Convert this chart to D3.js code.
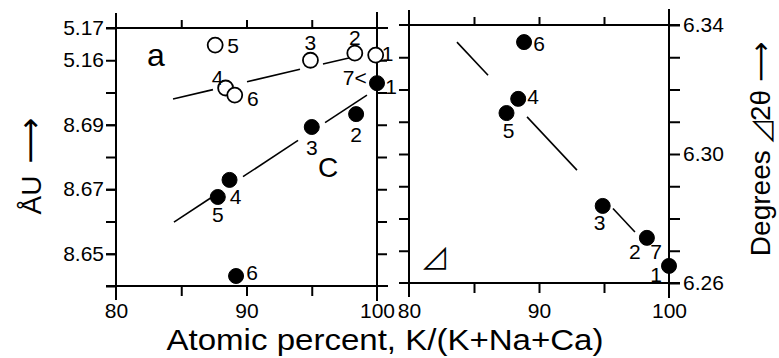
<!DOCTYPE html>
<html>
<head>
<meta charset="utf-8">
<script src="https://cdn.jsdelivr.net/npm/d3@7"></script>
<style>
  body { margin: 0; background: #fff; }
  text { font-family: "Liberation Sans", sans-serif; fill: #000; }
</style>
</head>
<body>
<svg id="chart" width="779" height="358"></svg>
<script>
// atomic percent K/(K+Na+Ca) and measured values, points numbered 1..6
const ptLabels = ["1", "2", "3", "4", "5", "6"];
const aPct  = [99.9, 98.3, 94.9, 88.4, 87.6, 89.1];
const aVals = [5.1616, 5.1622, 5.1600, 5.1514, 5.1647, 5.1492];
const cPct  = [100, 98.4, 95.0, 88.7, 87.8, 89.2];
const cVals = [8.7029, 8.6933, 8.6893, 8.6729, 8.6676, 8.6431];
const dPct  = [100, 98.3, 94.9, 88.4, 87.5, 88.85];
const dVals = [6.2653, 6.2740, 6.2839, 6.3171, 6.3127, 6.3347];

// fitted lines, drawn broken around the points
const aFit = { x0: 84.37, y0: 5.148, slope: 0.000944 };
const aSegs = [[84.37, 87.43], [90.04, 94.1], [95.86, 97.93]];
const cFit = { x0: 84.44, y0: 8.6598, slope: 0.002664 };
const cSegs = [[84.44, 87.28], [89.73, 93.95], [96.02, 99.23]];
const dFit = { x0: 83.69, y0: 6.3347, slope: -0.0043 };
const dSegs = [[83.69, 86.08], [89.08, 92.92], [95.69, 97.38]];

// ticks
const xMinor = [85, 90, 95];
const xLabels = [80, 90, 100];
const aTicks = [5.17, 5.16, 5.15, 5.14, 5.13, 5.12, 5.11, 5.10, 5.09];
const aTickLabels = ["5.17", "5.16"];
const cTickLabels = [8.69, 8.67, 8.65];
const dTicks = [6.34, 6.33, 6.32, 6.31, 6.30, 6.29, 6.28, 6.27, 6.26];
const dTickLabels = ["6.34", "6.30", "6.26"];

// label offsets (px) from the point centre, by series
const offA = [[12, -2], [0, -16], [0, -18], [-8, -10], [18, 0], [18, 3]];
const offC = [[14, 3], [0, 20], [0, 20], [6, 17], [0, 18], [16, -4]];
const offD = [[-13, 9], [-12, 14], [-3, 17], [15, -2], [2, 17], [15, 1]];

const svg = d3.select("#chart");

const xL = d3.scaleLinear().domain([80, 100]).range([116, 377]);
const xR = d3.scaleLinear().domain([80, 100]).range([409, 669]);
const yA = d3.scaleLinear().domain([5.09, 5.17]).range([286, 28]);
const yC = d3.scaleLinear().domain([8.64, 8.72]).range([286, 28]);
const yD = d3.scaleLinear().domain([6.26, 6.34]).range([283, 25]);

function styleAxis(g, size) {
  g.select(".domain").remove();
  g.selectAll(".tick line").attr("stroke", "#000").attr("stroke-width", 2);
  g.attr("font-family", "Liberation Sans, sans-serif").attr("font-size", size || 21);
  g.selectAll("text").attr("fill", "#000");
}

const f2 = d3.format(".2f");

// ---- frames (lines overshoot the corners like the original)
function frame(x, y) {
  const [x0, x1] = x.range();
  const [yb, yt] = y.range();
  const fr = svg.append("g").attr("stroke", "#000").attr("stroke-width", 2);
  fr.append("line").attr("x1", x0 - 10).attr("x2", x1 + 11).attr("y1", yt).attr("y2", yt);
  fr.append("line").attr("x1", x0 - 10).attr("x2", x1 + 11).attr("y1", yb).attr("y2", yb);
  fr.append("line").attr("x1", x0).attr("x2", x0).attr("y1", yt - 15).attr("y2", yb + 14);
  fr.append("line").attr("x1", x1).attr("x2", x1).attr("y1", yt - 16).attr("y2", yb + 15);
}
frame(xL, yA);
frame(xR, yD);

// ---- left panel axes
svg.append("g").attr("transform", "translate(116,0)")
  .call(d3.axisLeft(yA).tickValues(aTicks).tickSize(10).tickPadding(2)
    .tickFormat(d => aTickLabels.includes(f2(d)) ? f2(d) : ""))
  .call(g => styleAxis(g));
svg.append("g").attr("transform", "translate(116,0)")
  .call(d3.axisLeft(yC).tickValues(cTickLabels).tickSize(10).tickPadding(2).tickFormat(f2))
  .call(g => styleAxis(g));
svg.append("g").attr("transform", "translate(377,0)")
  .call(d3.axisRight(yA).tickValues(aTicks.slice(1, -1)).tickSize(10).tickFormat(""))
  .call(g => styleAxis(g));
svg.append("g").attr("transform", "translate(0,28)")
  .call(d3.axisTop(xL).tickValues(xMinor).tickSize(8).tickFormat(""))
  .call(g => styleAxis(g));
svg.append("g").attr("transform", "translate(0,286)")
  .call(d3.axisBottom(xL).tickValues(xMinor).tickSize(10).tickFormat(""))
  .call(g => styleAxis(g));
svg.append("g").attr("transform", "translate(0,286)")
  .call(d3.axisBottom(xL).tickValues(xLabels).tickSize(0).tickPadding(17))
  .call(g => styleAxis(g, 21));

// ---- right panel axes
svg.append("g").attr("transform", "translate(409,0)")
  .call(d3.axisLeft(yD).tickValues(dTicks.slice(1, -1)).tickSize(10).tickFormat(""))
  .call(g => styleAxis(g));
svg.append("g").attr("transform", "translate(669,0)")
  .call(d3.axisRight(yD).tickValues(dTicks).tickSize(11).tickPadding(3)
    .tickFormat(d => dTickLabels.includes(f2(d)) ? f2(d) : ""))
  .call(g => styleAxis(g));
svg.append("g").attr("transform", "translate(0,25)")
  .call(d3.axisTop(xR).tickValues(xMinor).tickSize(8).tickFormat(""))
  .call(g => styleAxis(g));
svg.append("g").attr("transform", "translate(0,283)")
  .call(d3.axisBottom(xR).tickValues(xMinor).tickSize(10).tickFormat(""))
  .call(g => styleAxis(g));
svg.append("g").attr("transform", "translate(0,283)")
  .call(d3.axisBottom(xR).tickValues(xLabels).tickSize(0).tickPadding(20))
  .call(g => styleAxis(g, 21));

// ---- fit lines
function fitLines(segs, fit, x, y) {
  const line = d3.line().x(d => x(d)).y(d => y(fit.y0 + fit.slope * (d - fit.x0)));
  svg.append("g").selectAll("path").data(segs).join("path")
    .attr("d", d => line(d))
    .attr("fill", "none").attr("stroke", "#000").attr("stroke-width", 1.6);
}
fitLines(aSegs, aFit, xL, yA);
fitLines(cSegs, cFit, xL, yC);
fitLines(dSegs, dFit, xR, yD);

// ---- points and number labels
function points(pct, vals, offs, x, y, open) {
  const data = pct.map((p, i) => ({ p, v: vals[i], lab: ptLabels[i], off: offs[i] }));
  const g = svg.append("g");
  g.selectAll("circle").data(data).join("circle")
    .attr("cx", d => x(d.p)).attr("cy", d => y(d.v)).attr("r", 7.5)
    .attr("fill", open ? "#fff" : "#000")
    .attr("stroke", "#000").attr("stroke-width", open ? 1.8 : 1);
  g.selectAll("text").data(data).join("text")
    .attr("x", d => x(d.p) + d.off[0]).attr("y", d => y(d.v) + d.off[1])
    .attr("text-anchor", "middle").attr("dominant-baseline", "central")
    .attr("font-size", 21).text(d => d.lab);
  return data;
}
const aPts = points(aPct, aVals, offA, xL, yA, true);
points(cPct, cVals, offC, xL, yC, false);
const dPts = points(dPct, dVals, offD, xR, yD, false);

// point 7 coincides with point 1
svg.append("text").attr("x", xL(aPts[0].p) - 21).attr("y", yA(aPts[0].v) + 22)
  .attr("text-anchor", "middle").attr("dominant-baseline", "central")
  .attr("font-size", 21).text("7<");
svg.append("text").attr("x", xR(dPts[0].p) - 13).attr("y", yD(dPts[0].v) - 14)
  .attr("text-anchor", "middle").attr("dominant-baseline", "central")
  .attr("font-size", 21).text("7");

// ---- panel letters
svg.append("text").attr("x", 156).attr("y", 55).attr("text-anchor", "middle")
  .attr("dominant-baseline", "central").attr("font-size", 32).text("a");
svg.append("text").attr("x", 328).attr("y", 167).attr("text-anchor", "middle")
  .attr("dominant-baseline", "central").attr("font-size", 28).text("C");
svg.append("text").attr("x", 434).attr("y", 266).attr("text-anchor", "middle")
  .attr("font-family", "DejaVu Sans").attr("font-size", 30).text("◿");

// ---- axis titles
svg.append("text").attr("x", 385).attr("y", 350).attr("text-anchor", "middle")
  .attr("font-size", 30).attr("textLength", 437).attr("lengthAdjust", "spacingAndGlyphs")
  .text("Atomic percent, K/(K+Na+Ca)");

svg.append("text").attr("transform", "translate(41,166) rotate(-90)")
  .attr("text-anchor", "middle").attr("font-size", 28)
  .call(t => {
    t.append("tspan").text("ÅU");
    t.append("tspan").attr("dx", 12).attr("font-family", "DejaVu Sans")
      .attr("font-size", 32).text("⟶");
  });

svg.append("text").attr("transform", "translate(770,149) rotate(-90)")
  .attr("text-anchor", "middle").attr("font-size", 28)
  .call(t => {
    t.append("tspan").text("Degrees ");
    t.append("tspan").attr("font-family", "DejaVu Sans").text("◿");
    t.append("tspan").text("2θ ");
    t.append("tspan").attr("font-family", "DejaVu Sans").text("⟶");
  });
</script>
</body>
</html>
